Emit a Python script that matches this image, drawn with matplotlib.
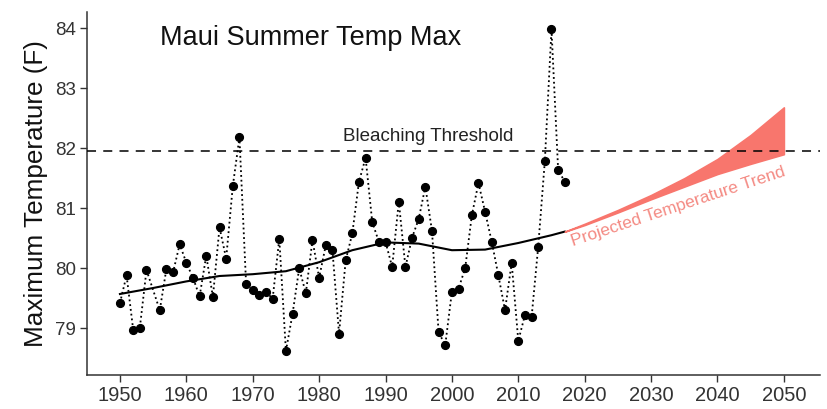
import numpy as np
import matplotlib.pyplot as plt

plt.rcParams['font.family'] = ['Liberation Sans', 'DejaVu Sans']

# observed summer maximum temperatures (1955 missing)
years = [1950, 1951, 1952, 1953, 1954, 1956, 1957, 1958, 1959, 1960,
         1961, 1962, 1963, 1964, 1965, 1966, 1967, 1968, 1969, 1970,
         1971, 1972, 1973, 1974, 1975, 1976, 1977, 1978, 1979, 1980,
         1981, 1982, 1983, 1984, 1985, 1986, 1987, 1988, 1989, 1990,
         1991, 1992, 1993, 1994, 1995, 1996, 1997, 1998, 1999, 2000,
         2001, 2002, 2003, 2004, 2005, 2006, 2007, 2008, 2009, 2010,
         2011, 2012, 2013, 2014, 2015, 2016, 2017]
temps = [79.42, 79.88, 78.97, 79.01, 79.97, 79.30, 79.99, 79.93, 80.40, 80.09,
         79.84, 79.53, 80.21, 79.52, 80.68, 80.16, 81.37, 82.18, 79.74, 79.63,
         79.56, 79.61, 79.49, 80.49, 78.62, 79.24, 80.00, 79.58, 80.47, 79.84,
         80.38, 80.31, 78.91, 80.13, 80.58, 81.44, 81.84, 80.77, 80.44, 80.44,
         80.02, 81.11, 80.02, 80.51, 80.82, 81.36, 80.62, 78.93, 78.72, 79.61,
         79.66, 80.00, 80.88, 81.42, 80.94, 80.44, 79.88, 79.30, 80.09, 78.79,
         79.22, 79.18, 80.36, 81.79, 83.98, 81.64, 81.44]

# smoothed trend
smooth_years = [1950, 1955, 1960, 1965, 1970, 1975, 1980, 1985, 1990,
                1995, 2000, 2005, 2010, 2015, 2017]
smooth_temps = [79.57, 79.67, 79.78, 79.87, 79.90, 79.95, 80.10, 80.30, 80.43,
                80.41, 80.30, 80.31, 80.42, 80.55, 80.61]

# projected trend band
proj_years = [2017, 2020, 2025, 2030, 2035, 2040, 2045, 2050]
proj_upper = [80.61, 80.74, 80.97, 81.22, 81.50, 81.82, 82.22, 82.68]
proj_lower = [80.61, 80.72, 80.93, 81.15, 81.36, 81.57, 81.74, 81.90]

threshold = 81.95

fig = plt.figure(figsize=(8.28, 4.09), dpi=100)
ax = fig.add_axes([0.1054, 0.0831, 0.8846, 0.8876])

ax.plot(years, temps, color='black', linestyle=':', linewidth=1.3, zorder=2)
ax.plot(years, temps, 'o', color='black', markersize=5.6, zorder=3)
ax.plot(smooth_years, smooth_temps, color='black', linewidth=1.5, zorder=4)
ax.fill_between(proj_years, proj_lower, proj_upper, color='#F8766D',
                linewidth=1.2, edgecolor='#F8766D', zorder=4)
ax.axhline(threshold, color='black', linestyle=(0, (5, 4)), linewidth=1.3,
           alpha=0.85, zorder=5)

ax.text(1956.0, 83.83, 'Maui Summer Temp Max', fontsize=19.5, va='center',
        ha='left', color='#111111')
ax.text(1996.5, 82.2, 'Bleaching Threshold', fontsize=13.5, ha='center',
        va='center', color='#222222')
ax.text(2018.2, 80.36, 'Projected Temperature Trend', fontsize=12.5,
        color='#F48A83', rotation=18.3, rotation_mode='anchor',
        ha='left', va='baseline')

ax.set_xlim(1945.08, 2055.4)
ax.set_ylim(78.22, 84.27)
ax.set_xticks(np.arange(1950, 2051, 10))
ax.set_yticks([79, 80, 81, 82, 83, 84])
ax.set_ylabel('Maximum Temperature (F)', fontsize=18.8, color='#111111',
              labelpad=5)

for side in ['top', 'right']:
    ax.spines[side].set_visible(False)
for side in ['left', 'bottom']:
    ax.spines[side].set_color('#333333')
    ax.spines[side].set_linewidth(1.1)
ax.tick_params(axis='both', length=5, width=1.0,
               color='#333333', labelcolor='#333333', pad=3)
ax.tick_params(axis='x', labelsize=14.5)
ax.tick_params(axis='y', labelsize=13.5)

fig.savefig('out.png', dpi=100)
plt.close(fig)
